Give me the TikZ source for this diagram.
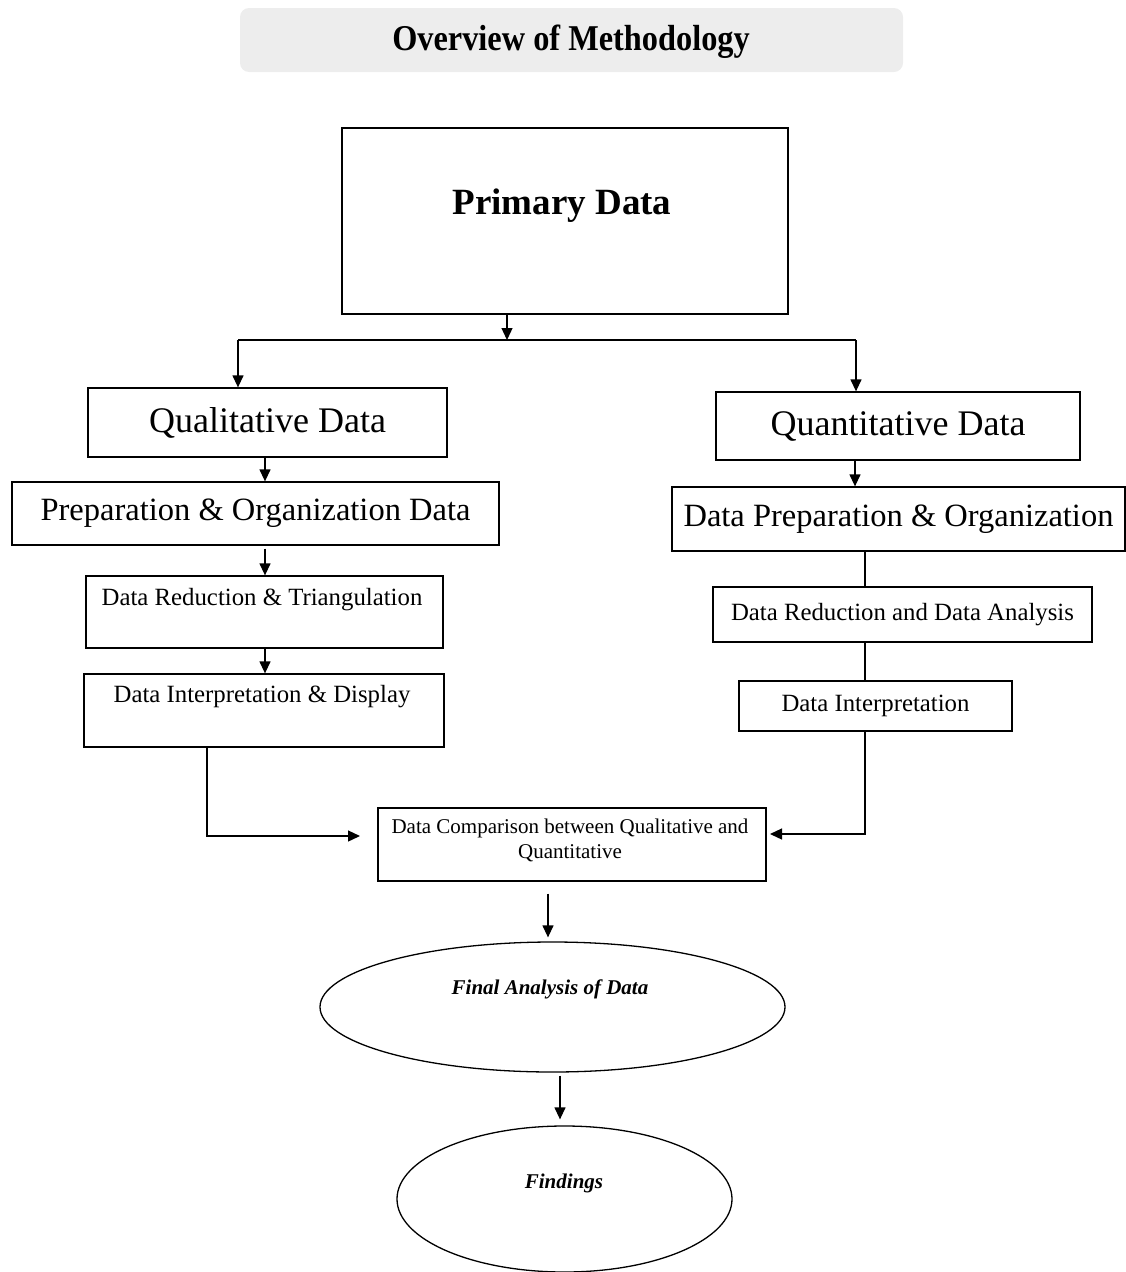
\documentclass[tikz,border=0pt]{standalone}
\usepackage{fontspec}
\setmainfont{Liberation Serif}
\usetikzlibrary{arrows.meta,shapes.geometric}
\definecolor{titlegray}{RGB}{237,237,237}
\begin{document}
\begin{tikzpicture}[x=1pt,y=-1pt,
  box/.style={draw=black,line width=1.3pt,rectangle,inner sep=0pt},
  oval/.style={draw=black,line width=1.3pt,ellipse,inner sep=0pt},
  txt/.style={inner sep=0pt,align=center},
  big/.style={font=\fontsize{36}{40}\selectfont},
  mid/.style={font=\fontsize{32.5}{38}\selectfont},
  small/.style={font=\fontsize{24.8}{28}\selectfont},
  cmp/.style={font=\fontsize{21}{25}\selectfont},
  ital/.style={font=\fontsize{21}{25}\selectfont\bfseries\itshape},
  arr/.style={line width=1.3pt,-{Triangle[length=12pt,width=11pt]}},
  ln/.style={line width=1.3pt}]
\useasboundingbox (0,0) rectangle (1126,1272);

% title
\node[rectangle,fill=titlegray,rounded corners=9pt,minimum width=663pt,minimum height=64pt,inner sep=0pt] (title) at (571.5,40) {};
\node[txt,font=\fontsize{33}{38}\selectfont\bfseries] (titlet) at (571,42) {\scalebox{0.98}[1.1]{Overview of Methodology}};

% primary
\node[box,minimum width=446pt,minimum height=186pt] (prim) at (565,221) {};
\node[txt,font=\fontsize{37}{42}\selectfont\bfseries] (primt) at (562,206) {Primary Data};

% left column
\node[box,big,minimum width=359pt,minimum height=69pt] (qual) at (267.5,422.5) {Qualitative Data};
\node[box,mid,minimum width=487pt,minimum height=63pt] (prep) at (255.5,513.5) {Preparation \& Organization Data};
\node[box,minimum width=357pt,minimum height=72pt] (red) at (264.5,612) {};
\node[txt,small] (redt) at (262,600) {Data Reduction \& Triangulation};
\node[box,minimum width=360pt,minimum height=73pt] (intp) at (264,710.5) {};
\node[txt,small] (intpt) at (262,697) {Data Interpretation \& Display};

% right column
\node[box,big,minimum width=364pt,minimum height=68pt] (quan) at (898,426) {Quantitative Data};
\node[box,mid,minimum width=453pt,minimum height=64pt] (dprep) at (898.5,519) {Data Preparation \& Organization};
\node[box,small,minimum width=379pt,minimum height=55pt] (dred) at (902.5,614.5) {Data Reduction and Data Analysis};
\node[box,small,minimum width=273pt,minimum height=50pt] (dint) at (875.5,706) {Data Interpretation};

% comparison
\node[box,minimum width=388pt,minimum height=73pt] (comp) at (572,844.5) {};
\node[txt,cmp] (compt) at (570,840.5) {Data Comparison between Qualitative and\\Quantitative};

% ellipses
\node[oval,minimum width=465pt,minimum height=130pt] (fin) at (552.5,1007) {};
\node[txt,ital] (fint) at (550,989) {Final Analysis of Data};
\node[oval,minimum width=335pt,minimum height=146pt] (find) at (564.5,1199) {};
\node[txt,ital] (findt) at (564,1183) {Findings};

% helper coordinates
\coordinate (sp) at (507,340);
\coordinate (bl) at (238,340);
\coordinate (br) at (856,340);
\coordinate (lx) at (265,0);
\coordinate (rx) at (855,0);
\coordinate (rl) at (865,0);
\coordinate (lc) at (207,0);
\coordinate (cl) at (360,836);
\coordinate (cr) at (770,834);
\coordinate (mx) at (548,0);
\coordinate (fx) at (560,0);

% connectors
\draw[arr] (prim.south -| sp) -- (sp);
\draw[ln] (bl) -- (br);
\draw[arr] (bl) -- (bl |- qual.north);
\draw[arr] (br) -- (br |- quan.north);

\draw[arr] (qual.south -| lx) -- (prep.north -| lx);
\draw[arr,shorten <=3pt] (prep.south -| lx) -- (red.north -| lx);
\draw[arr] (red.south -| lx) -- (intp.north -| lx);
\draw[arr] (intp.south -| lc) |- (cl);

\draw[arr] (quan.south -| rx) -- (dprep.north -| rx);
\draw[ln] (dprep.south -| rl) -- (dred.north -| rl);
\draw[ln] (dred.south -| rl) -- (dint.north -| rl);
\draw[arr] (dint.south -| rl) |- (cr);

\draw[arr,shorten <=12pt,shorten >=4pt] (comp.south -| mx) -- (fin.north -| mx);
\draw[arr,shorten <=3pt,shorten >=6pt] (fin.south -| fx) -- (find.north -| fx);
\end{tikzpicture}
\end{document}
